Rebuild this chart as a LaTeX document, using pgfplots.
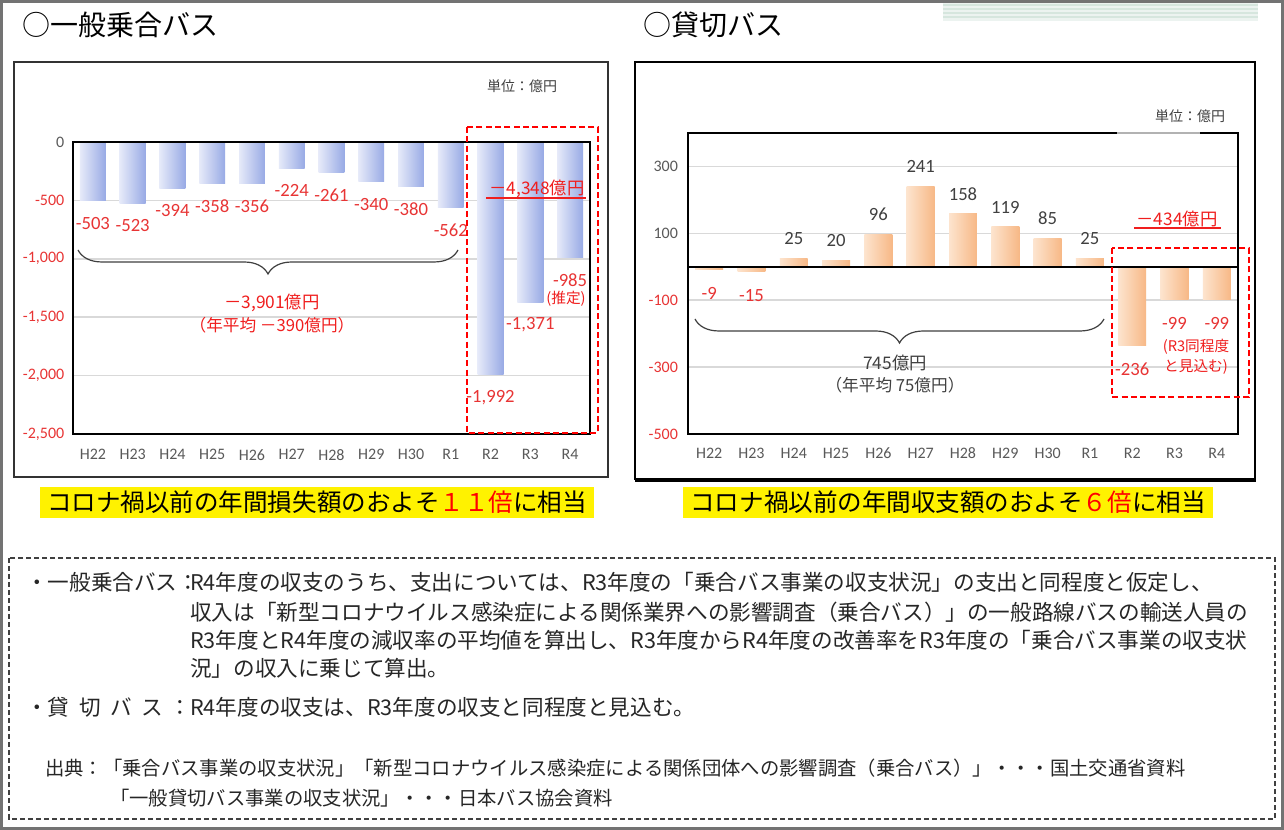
\documentclass[border=0pt]{standalone}
\usepackage{pgfplots}
\pgfplotsset{compat=1.18}
\usepackage{pgfplotstable}
\usepackage{fontspec}
\setmainfont{Carlito}
\newfontfamily\jp{Noto Sans CJK JP}
\usetikzlibrary{decorations.pathreplacing}

\definecolor{tickgray}{RGB}{89,89,89}
\definecolor{lblgray}{RGB}{64,64,64}
\definecolor{negred}{RGB}{232,52,52}
\definecolor{annred}{RGB}{240,30,30}
\definecolor{gridgray}{RGB}{217,217,217}
\definecolor{bluel}{RGB}{230,234,249}
\definecolor{blued}{RGB}{152,170,229}
\definecolor{orl}{RGB}{253,228,206}
\definecolor{ord}{RGB}{247,184,134}
\definecolor{stripe}{RGB}{214,230,222}
\definecolor{stripebg}{RGB}{236,243,240}
\newcommand{\fs}[1]{\fontsize{#1}{#1}\selectfont}

\pgfplotstableread{
x y lab
0 -503 -503
1 -523 -523
2 -394 -394
3 -358 -358
4 -356 -356
5 -224 -224
6 -261 -261
7 -340 -340
8 -380 -380
9 -562 -562
10 -1992 -1,992
11 -1371 -1,371
12 -985 -985
}\leftdata

\pgfplotstableread{
x y lab
2 25 25
3 20 20
4 96 96
5 241 241
6 158 158
7 119 119
8 85 85
9 25 25
}\rightpos

\pgfplotstableread{
x y lab
0 -9 -9
1 -15 -15
10 -236 -236
11 -99 -99
12 -99 -99
}\rightneg

\begin{document}
\begin{tikzpicture}[x=0.75pt,y=0.75pt]
\useasboundingbox (0,0) rectangle (1284,830);
\fill[white] (0,0) rectangle (1284,830);
% outer border
\draw[gray!90!black, line width=2.2pt] (1.5,1.5) rectangle (1282.5,828.5);
% decorative stripes
\fill[stripebg] (943,809) rectangle (1258,827);
\foreach \yy in {825,821,817,813} {\draw[stripe, line width=1.2pt] (943,\yy) -- (1258,\yy);}

% titles
\node[anchor=west, inner sep=0pt, font=\jp\fs{21}] at (22,805) {○一般乗合バス};
\node[anchor=west, inner sep=0pt, font=\jp\fs{21}] at (643,805) {○貸切バス};

% chart frames
\draw[black!80, line width=1.4pt] (14,768) rectangle (608,353);
\draw[black, line width=1.5pt] (635,768) rectangle (1255,351);
\draw[black, line width=2.5pt] (635,350) -- (1256,350);

% unit labels
\node[font=\jp\fs{10.5}, text=lblgray] at (522,744) {単位：億円};
\node[font=\jp\fs{10.5}, text=lblgray] at (1190,714) {単位：億円};

% ---------------- left chart ----------------
\begin{axis}[at={(54.75pt,297pt)}, anchor=south west, scale only axis,
  width=387.75pt, height=219pt,
  xmin=-0.5, xmax=12.5, ymin=-2500, ymax=0,
  xtick={0,...,12},
  xticklabels={H22,H23,H24,H25,H26,H27,H28,H29,H30,R1,R2,R3,R4},
  ytick={-2500,-2000,-1500,-1000,-500,0},
  yticklabels={\textcolor{negred}{-2,500},\textcolor{negred}{-2,000},\textcolor{negred}{-1,500},\textcolor{negred}{-1,000},\textcolor{negred}{-500},\textcolor{tickgray}{0}},
  ymajorgrids, grid style={gridgray, line width=1.2pt},
  axis line style={draw=none},
  major tick length=0pt,
  tick label style={font=\fs{12}, text=tickgray},
  xticklabel style={yshift=-8pt},
  yticklabel style={xshift=-3pt},
  clip=false]
\pgfplotsinvokeforeach{0,...,12}{
\addplot[ybar, bar shift=0pt, bar width=0.65, draw=none, left color=bluel, right color=blued,
  restrict x to domain=#1:#1,
  nodes near coords, point meta=explicit symbolic,
  every node near coord/.append style={font=\fs{14}, text=negred, anchor=center, yshift=-17pt}]
  table[x=x, y=y, meta=lab] {\leftdata};
}
\draw[black, line width=1.1pt] (rel axis cs:0,0) rectangle (rel axis cs:1,1);
\end{axis}

% left annotations
\draw[lblgray, line width=0.9pt, decorate, decoration={brace, amplitude=18pt, mirror}] (78,580) -- (458,580);
\node[font=\jp\fs{13}, text=annred] at (272,527) {－3,901億円};
\node[font=\jp\fs{12.5}, text=annred] at (272,505) {（年平均 －390億円）};
\node[font=\jp\fs{13}, text=annred] at (537,641) {－4,348億円};
\draw[annred, line width=1pt] (486,632) -- (586,632);
\node[font=\jp\fs{11}, text=annred] at (566,531) {(推定)};
\draw[red, line width=1.6pt, dash pattern=on 4.5pt off 2.5pt] (467,703) rectangle (598,397);

% ---------------- right chart ----------------
\begin{axis}[at={(516pt,297pt)}, anchor=south west, scale only axis,
  width=412.5pt, height=225.75pt,
  xmin=-0.5, xmax=12.5, ymin=-500, ymax=400,
  xtick={0,...,12},
  xticklabels={H22,H23,H24,H25,H26,H27,H28,H29,H30,R1,R2,R3,R4},
  ytick={-500,-300,-100,100,300},
  yticklabels={\textcolor{negred}{-500},\textcolor{negred}{-300},\textcolor{negred}{-100},\textcolor{tickgray}{100},\textcolor{tickgray}{300}},
  ymajorgrids, grid style={gridgray, line width=1.2pt},
  axis line style={draw=none},
  major tick length=0pt,
  tick label style={font=\fs{12}, text=tickgray},
  xticklabel style={yshift=-7pt},
  yticklabel style={xshift=-4pt},
  clip=false]
\pgfplotsinvokeforeach{2,...,9}{
\addplot[ybar, bar shift=0pt, bar width=0.66, draw=none, left color=orl, right color=ord,
  restrict x to domain=#1:#1,
  nodes near coords, point meta=explicit symbolic,
  every node near coord/.append style={font=\fs{14}, text=lblgray, anchor=center, yshift=15pt}]
  table[x=x, y=y, meta=lab] {\rightpos};
}
\pgfplotsinvokeforeach{0,1,10,11,12}{
\addplot[ybar, bar shift=0pt, bar width=0.66, draw=none, left color=orl, right color=ord,
  restrict x to domain=#1:#1,
  nodes near coords, point meta=explicit symbolic,
  every node near coord/.append style={font=\fs{14}, text=negred, anchor=center, yshift=-18pt}]
  table[x=x, y=y, meta=lab] {\rightneg};
}
\draw[black, line width=1.1pt] (rel axis cs:0,0) rectangle (rel axis cs:1,1);
\draw[black, line width=1.6pt] (axis cs:-0.5,0) -- (axis cs:12.5,0);
\end{axis}
\draw[gray!60, line width=1.6pt] (1117,697) -- (1200,697);

% right annotations
\draw[lblgray, line width=0.9pt, decorate, decoration={brace, amplitude=18pt, mirror}] (695,511) -- (1104,511);
\node[font=\jp\fs{13}, text=lblgray] at (895,467) {745億円};
\node[font=\jp\fs{12.5}, text=lblgray] at (895,445) {（年平均 75億円）};
\node[font=\jp\fs{13}, text=annred] at (1177,611) {－434億円};
\draw[annred, line width=1pt] (1134,602) -- (1221,602);
\node[font=\jp\fs{11}, text=annred] at (1196,483) {(R3同程度};
\node[font=\jp\fs{11}, text=annred] at (1196,463) {と見込む)};
\draw[red, line width=1.6pt, dash pattern=on 4.5pt off 2.5pt] (1112,582) rectangle (1249,433);

% yellow highlight boxes
\fill[yellow] (40,343) rectangle (594,312);
\node[font=\jp\fs{18.4}, inner sep=0pt] at (317,328) {コロナ禍以前の年間損失額のおよそ\textcolor{red}{１１倍}に相当};
\fill[yellow] (683,343) rectangle (1213,312);
\node[font=\jp\fs{18.4}, inner sep=0pt] at (948,328) {コロナ禍以前の年間収支額のおよそ\textcolor{red}{６倍}に相当};

% notes box
\draw[black!75, line width=1pt, dash pattern=on 4pt off 2pt] (9,272) rectangle (1275,11);
\begin{scope}[every node/.style={anchor=west, inner sep=0pt, font=\jp\fs{16.2}, text=black!85}]
\node at (26,248) {・一般乗合バス：};
\node at (190,248) {R4年度の収支のうち、支出については、R3年度の「乗合バス事業の収支状況」の支出と同程度と仮定し、};
\node at (190,218) {収入は「新型コロナウイルス感染症による関係業界への影響調査（乗合バス）」の一般路線バスの輸送人員の};
\node at (190,190) {R3年度とR4年度の減収率の平均値を算出し、R3年度からR4年度の改善率をR3年度の「乗合バス事業の収支状};
\node at (190,162) {況」の収入に乗じて算出。};
\node at (26,123) {・貸\hspace{0.45em}切\hspace{0.45em}バ\hspace{0.45em}ス\hspace{0.3em}：};
\node at (190,123) {R4年度の収支は、R3年度の収支と同程度と見込む。};
\end{scope}
\begin{scope}[every node/.style={anchor=west, inner sep=0pt, font=\jp\fs{14.5}, text=black!85}]
\node at (45,62) {出典：「乗合バス事業の収支状況」「新型コロナウイルス感染症による関係団体への影響調査（乗合バス）」・・・国土交通省資料};
\node at (110,32) {「一般貸切バス事業の収支状況」・・・日本バス協会資料};
\end{scope}
\end{tikzpicture}
\end{document}
